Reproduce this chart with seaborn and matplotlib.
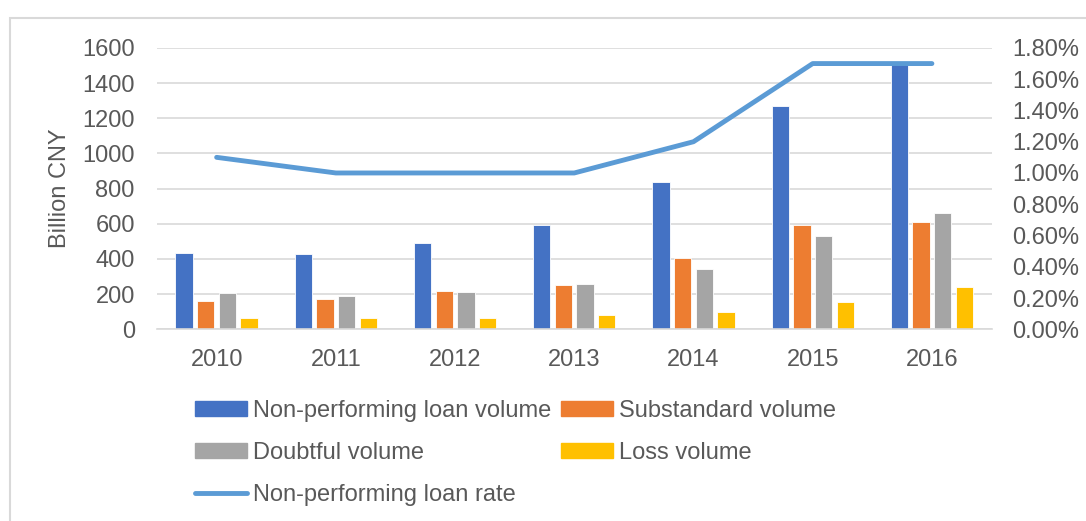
import pandas as pd
import matplotlib.pyplot as plt
import matplotlib.ticker as mticker
from matplotlib.patches import Patch
from matplotlib.lines import Line2D
import seaborn as sns

# ─── Data ────────────────────────────────────────────────────
years = ["2010", "2011", "2012", "2013", "2014", "2015", "2016"]
npl_volume = [433, 426, 492, 592, 838, 1272, 1512]
substandard = [161, 172, 216, 252, 403, 592, 608]
doubtful = [204, 187, 210, 257, 341, 528, 662]
loss = [66, 66, 62, 81, 98, 153, 239]
npl_rate = [1.1, 1.0, 1.0, 1.0, 1.2, 1.7, 1.7]  # percent

series_names = ["Non-performing loan volume", "Substandard volume",
                "Doubtful volume", "Loss volume"]
rate_name = "Non-performing loan rate"

BLUE = "#4472c4"
ORANGE = "#ed7d31"
GRAY = "#a5a5a5"
GOLD = "#ffc000"
LINE = "#5b9bd5"
TEXT = "#595959"
GRID = "#d9d9d9"
FS = 17

sns.set_theme(style="white")
plt.rcParams["font.family"] = ["Liberation Sans", "DejaVu Sans"]
plt.rcParams["font.size"] = FS

df = pd.DataFrame({
    "year": years * 4,
    "value": npl_volume + substandard + doubtful + loss,
    "series": sum([[s] * len(years) for s in series_names], []),
})

fig = plt.figure(figsize=(10.86, 5.21), dpi=100)
ax = fig.add_axes([0.1446, 0.368, 0.7684, 0.540])

palette = dict(zip(series_names, [BLUE, ORANGE, GRAY, GOLD]))
sns.barplot(data=df, x="year", y="value", hue="series", palette=palette,
            width=0.727, gap=0.2, saturation=1, legend=False, ax=ax,
            edgecolor="white", linewidth=0.6)

ax.set_ylim(0, 1600)
ax.yaxis.set_major_locator(mticker.MultipleLocator(200))
ax.grid(axis="y", color=GRID, lw=1.2)
ax.set_axisbelow(True)
for s in ["top", "right", "left"]:
    ax.spines[s].set_visible(False)
ax.spines["bottom"].set_color(GRID)
ax.spines["bottom"].set_linewidth(1.2)
ax.tick_params(axis="both", length=0, colors=TEXT, labelsize=FS)
ax.tick_params(axis="y", pad=16)
ax.tick_params(axis="x", pad=14)
ax.set_xlabel("")
ax.set_ylabel("Billion CNY", color=TEXT, fontsize=FS, labelpad=8)

ax2 = ax.twinx()
ax2.plot(range(len(years)), npl_rate, color=LINE, lw=3.5, solid_capstyle="round")
ax2.set_ylim(0, 1.8)
ax2.yaxis.set_major_locator(mticker.MultipleLocator(0.2))
ax2.yaxis.set_major_formatter(mticker.FuncFormatter(lambda v, _: f"{v:.2f}%"))
ax2.tick_params(axis="y", length=0, colors=TEXT, labelsize=FS, pad=15)
for s in ax2.spines.values():
    s.set_visible(False)
ax2.grid(False)
ax.set_xlim(-0.5, len(years) - 0.5)

# legend (column-major order so rows read NPL/Sub, Doubt/Loss, Rate)
h = {n: Patch(color=c) for n, c in palette.items()}
h[rate_name] = Line2D([], [], color=LINE, lw=3.5, solid_capstyle="round")
order = [series_names[0], series_names[2], rate_name,
         series_names[1], series_names[3]]
fig.legend([h[n] for n in order], order, ncol=2, frameon=False,
           loc="upper left", bbox_to_anchor=(0.1686, 0.255), borderpad=0,
           fontsize=FS, labelcolor=TEXT, handlelength=2.2, handleheight=0.55,
           handletextpad=0.25, columnspacing=0.42, labelspacing=0.84)

# outer frame (partially cropped in the reference)
fig.patches.append(plt.Rectangle((10 / 1086, -0.1), 1.2, 0.1 + 1 - 18 / 521,
                                 transform=fig.transFigure, fill=False,
                                 edgecolor=GRID, lw=1.5))

fig.savefig("out.png", dpi=100)
